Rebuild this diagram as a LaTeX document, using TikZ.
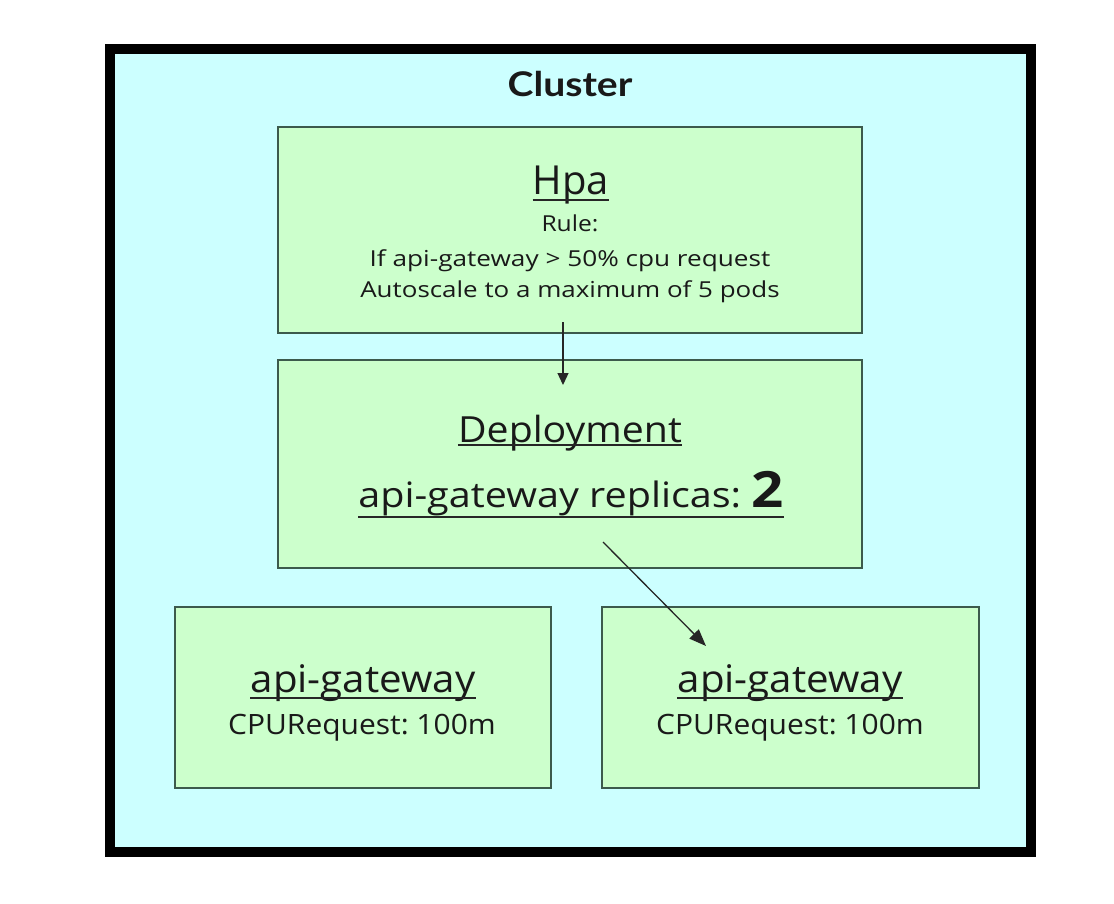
\documentclass[tikz,border=0pt]{standalone}
\usepackage{fontspec}
\setmainfont{Open Sans}
\newfontfamily\clusterfont{Lato}
\usetikzlibrary{arrows.meta}
\definecolor{clusterfill}{HTML}{CCFFFF}
\definecolor{podfill}{HTML}{CCFFCC}
\definecolor{podline}{HTML}{3C5A4C}
\tikzset{
  clusterbox/.style={draw=black,fill=clusterfill,line width=10pt,inner sep=0pt},
  box/.style={draw=podline,fill=podfill,line width=1.2pt,inner sep=0pt},
  txt/.style={anchor=base,inner sep=0pt,text=black!90,execute at begin node=\frenchspacing},
  link/.style={line width=1.3pt,draw=black!85,-{Triangle[length=12pt,width=11pt]}},
}
% underline below a text node
\newcommand{\ulnode}[2]{\draw[line width=1.4pt,black!85] ([yshift=-#2]#1.base west) -- ([yshift=-#2]#1.base east);}
% wider text
\newcommand{\wide}[2]{\scalebox{#1}[1]{#2}}
\begin{document}
\begin{tikzpicture}[x=1pt,y=-1pt]
\useasboundingbox (0,0) rectangle (1114,904);
\node[clusterbox,minimum width=921pt,minimum height=803pt] (cluster) at (570.5,450.5) {};
\node[txt,font=\clusterfont\bfseries\fontsize{34}{36}\selectfont] (clusterlbl) at (570,97) {\wide{1.15}{Cluster}};
% boxes
\node[box,minimum width=584pt,minimum height=206pt] (hpa) at (570,230) {};
\node[box,minimum width=584pt,minimum height=208pt] (deploy) at (570,464) {};
\node[box,minimum width=376pt,minimum height=181pt] (poda) at (363,697.5) {};
\node[box,minimum width=377pt,minimum height=181pt] (podb) at (790.5,697.5) {};
% hpa texts
\node[txt,font=\fontsize{40}{42}\selectfont] (hpatitle) at (571,195) {Hpa};
\ulnode{hpatitle}{5pt}
\node[txt,font=\fontsize{22}{24}\selectfont] (rule) at (570,232) {\wide{1.12}{Rule:}};
\node[txt,font=\fontsize{22}{24}\selectfont] (ifline) at (570,266) {\wide{1.19}{If api-gateway > 50\% cpu request}};
\node[txt,font=\fontsize{22}{24}\selectfont] (autoline) at (570,297) {\wide{1.18}{Autoscale to a maximum of 5 pods}};
% deployment texts
\node[txt,font=\fontsize{36}{38}\selectfont] (deploytitle) at (570,442) {\wide{1.09}{Deployment}};
\ulnode{deploytitle}{3pt}
\node[txt,font=\fontsize{35}{37}\selectfont] (replicas) at (571,507) {\wide{1.13}{api-gateway replicas: {\bfseries\fontsize{50}{52}\selectfont 2}}};
\ulnode{replicas}{10pt}
% pod texts
\node[txt,font=\fontsize{38}{40}\selectfont] (podaname) at (363,692) {\wide{1.06}{api-gateway}};
\ulnode{podaname}{6pt}
\node[txt,font=\fontsize{28}{30}\selectfont] (podacpu) at (362,734) {\wide{1.07}{CPURequest: 100m}};
\node[txt,font=\fontsize{38}{40}\selectfont] (podbname) at (790,692) {\wide{1.06}{api-gateway}};
\ulnode{podbname}{6pt}
\node[txt,font=\fontsize{28}{30}\selectfont] (podbcpu) at (790,734) {\wide{1.07}{CPURequest: 100m}};
% connectors
\coordinate (hpaout) at (563,322);
\coordinate (deployin) at (563,385);
\coordinate (deployout) at (603,542);
\coordinate (podin) at (706,646);
\draw[link] (hpaout) -- (deployin);
\draw[link,-{Triangle[length=17pt,width=13pt]}] (deployout) -- (podin);
\end{tikzpicture}
\end{document}
